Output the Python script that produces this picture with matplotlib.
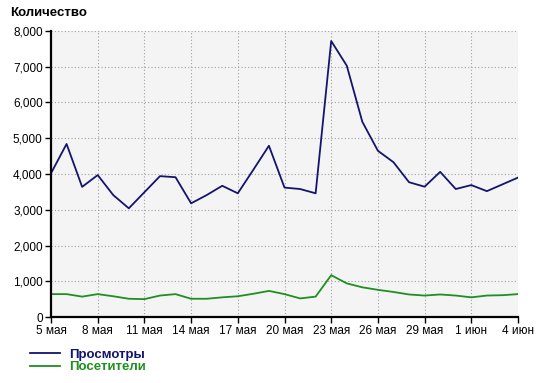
import matplotlib
matplotlib.use("Agg")
import matplotlib.pyplot as plt
from matplotlib.ticker import FuncFormatter

days = list(range(31))
tick_labels = ["5 мая", "8 мая", "11 мая", "14 мая", "17 мая", "20 мая",
               "23 мая", "26 мая", "29 мая", "1 июн", "4 июн"]
views = [4020, 4840, 3640, 3970, 3410, 3040, 3490, 3940, 3910, 3180, 3410,
         3670, 3460, 4120, 4790, 3620, 3580, 3460, 7720, 7030, 5460, 4650,
         4330, 3770, 3645, 4060, 3580, 3690, 3520, 3710, 3900]
visitors = [640, 640, 570, 640, 580, 510, 500, 600, 640, 510, 510, 550, 580,
            650, 730, 640, 520, 570, 1170, 940, 830, 760, 700, 630, 600, 630,
            600, 550, 600, 610, 640]
series_names = ["Просмотры", "Посетители"]
colors = ["#14146e", "#1f8f1f"]

plt.rcParams['font.family'] = ['Liberation Sans', 'DejaVu Sans']

fig = plt.figure(figsize=(5.5, 3.83), dpi=100)
W, H = 550, 383
ax = fig.add_axes([51 / W, 1 - 317 / H, (518 - 51) / W, (317 - 31) / H])
ax.set_facecolor("#f4f4f4")

l1, = ax.plot(days, views, color=colors[0], lw=1.3)
l2, = ax.plot(days, visitors, color=colors[1], lw=1.3)

ax.set_xlim(0, 30)
ax.set_ylim(0, 8000)
ax.set_xticks(days[::3])
ax.set_xticklabels(tick_labels)
ax.set_yticks(range(0, 8001, 1000))
ax.yaxis.set_major_formatter(FuncFormatter(lambda v, p: f"{int(v):,}"))
ax.tick_params(labelsize=8.5, length=4, width=1, pad=2, colors="black")
ax.grid(True, color="#a0a0a0", linestyle=(0, (1, 2)), lw=0.8)
ax.set_axisbelow(True)
for s in ["top", "right"]:
    ax.spines[s].set_visible(False)
for s in ["left", "bottom"]:
    ax.spines[s].set_linewidth(1.6)
    ax.spines[s].set_color("black")

fig.text(10 / W, 1 - 13 / H, "Количество", fontsize=9.5, fontweight="bold",
         va="center", ha="left")

leg = fig.legend([l1, l2], series_names, loc="upper left",
                 bbox_to_anchor=(18 / W, 1 - 337 / H), frameon=False,
                 handlelength=2.3, handletextpad=0.7, labelspacing=0.0,
                 prop={"weight": "bold", "size": 9.5})
for t, c in zip(leg.get_texts(), colors):
    t.set_color(c)

fig.savefig("out.png", dpi=100)
